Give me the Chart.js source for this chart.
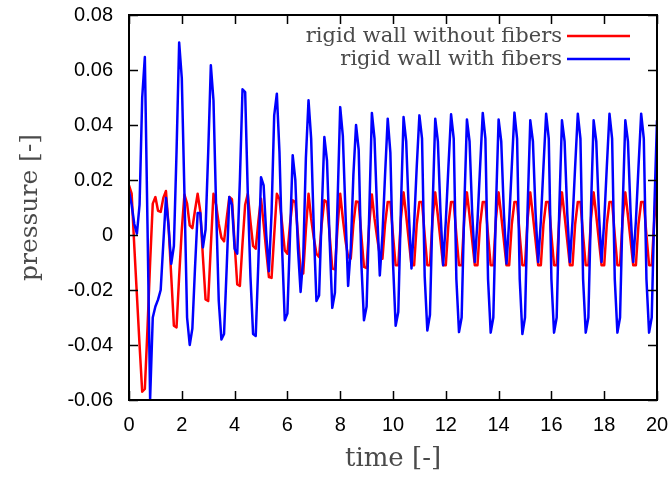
<!DOCTYPE html>
<html>
<head>
<meta charset="utf-8">
<script src="https://cdn.jsdelivr.net/npm/chart.js@4/dist/chart.umd.min.js"></script>
<style>
  html, body { margin: 0; padding: 0; background: #fff; }
  #wrap { width: 672px; height: 477px; }
</style>
</head>
<body>
<div id="wrap"><canvas id="chart" width="672" height="477"></canvas></div>
<script>
// pressure signals sampled every 0.1 time units, t = 0 .. 20
const timeStep = 0.1;
const seriesNames = ['rigid wall without fibers', 'rigid wall with fibers'];
const seriesColors = ['#ff0000', '#0000ff'];
const xTicks = [0, 2, 4, 6, 8, 10, 12, 14, 16, 18, 20];
const yTicks = [-0.06, -0.04, -0.02, 0, 0.02, 0.04, 0.06, 0.08];

const withoutFibers = [
  0.018, 0.015, -0.004, -0.022, -0.040, -0.057, -0.056, -0.034, -0.010, 0.0114,
  0.0138, 0.0088, 0.0084, 0.0135, 0.016, 0.003, -0.015, -0.033, -0.0336, -0.015,
  0.002, 0.0147, 0.0114, 0.0035, 0.0025, 0.009, 0.015, 0.0086, -0.008, -0.0234,
  -0.024, -0.004, 0.015, 0.011, 0.004, -0.001, -0.0023, 0.006, 0.0138, 0.013,
  -0.003, -0.018, -0.0185, -0.003, 0.011, 0.015, 0.005, -0.004, -0.005, 0.005,
  0.0132, 0.004, -0.006, -0.0153, -0.0156, 0.000, 0.015, 0.013, 0.004, -0.0056,
  -0.0068, 0.004, 0.0126, 0.012, 0.000, -0.0135, -0.014, 0.002, 0.015, 0.006,
  -0.001, -0.0068, -0.008, 0.004, 0.0126, 0.012, 0.000, -0.0122, -0.0125, 0.003,
  0.015, 0.006, -0.002, -0.008, -0.0086, 0.004, 0.0122, 0.012, 0.000, -0.0116,
  -0.012, 0.004, 0.0147, 0.006, -0.001, -0.0074, -0.0086, 0.004, 0.012, 0.012,
  0.000, -0.011, -0.011, 0.006, 0.0155, 0.007, -0.002, -0.011, -0.011, 0.004,
  0.012, 0.012, 0.000, -0.011, -0.011, 0.006, 0.0155, 0.007, -0.002, -0.011,
  -0.011, 0.004, 0.012, 0.012, 0.000, -0.011, -0.011, 0.006, 0.0155, 0.007,
  -0.002, -0.011, -0.011, 0.004, 0.012, 0.012, 0.000, -0.011, -0.011, 0.006,
  0.0155, 0.007, -0.002, -0.011, -0.011, 0.004, 0.012, 0.012, 0.000, -0.011,
  -0.011, 0.006, 0.0155, 0.007, -0.002, -0.011, -0.011, 0.004, 0.012, 0.012,
  0.000, -0.011, -0.011, 0.006, 0.0155, 0.007, -0.002, -0.011, -0.011, 0.004,
  0.012, 0.012, 0.000, -0.011, -0.011, 0.006, 0.0155, 0.007, -0.002, -0.011,
  -0.011, 0.004, 0.012, 0.012, 0.000, -0.011, -0.011, 0.006, 0.0155, 0.007,
  -0.002, -0.011, -0.011, 0.004, 0.012, 0.012, 0.000, -0.011, -0.011, 0.006,
  0.0155
];

const withFibers = [
  0.016, 0.011, 0.004, 0.0005, 0.011, 0.050, 0.0647, 0.004, -0.0595, -0.030,
  -0.026, -0.0235, -0.020, -0.003, 0.0135, 0.003, -0.0105, -0.004, 0.030, 0.070,
  0.057, 0.015, -0.030, -0.040, -0.034, -0.012, 0.008, 0.008, -0.0045, 0.002,
  0.030, 0.0617, 0.049, 0.010, -0.024, -0.038, -0.036, -0.012, 0.0138, 0.011,
  -0.005, -0.0068, 0.020, 0.053, 0.052, 0.015, -0.015, -0.036, -0.0367, -0.010,
  0.021, 0.018, 0.000, -0.0132, 0.008, 0.0435, 0.0514, 0.030, -0.005, -0.031,
  -0.0286, 0.000, 0.029, 0.020, -0.005, -0.0207, -0.008, 0.028, 0.049, 0.035,
  0.002, -0.024, -0.022, 0.008, 0.0356, 0.027, -0.002, -0.0265, -0.021, 0.012,
  0.0465, 0.036, 0.008, -0.0185, -0.005, 0.022, 0.040, 0.031, -0.010, -0.031,
  -0.026, 0.008, 0.0444, 0.035, 0.008, -0.0147, 0.000, 0.022, 0.0423, 0.030,
  -0.010, -0.033, -0.028, 0.010, 0.0429, 0.034, 0.008, -0.0122, 0.004, 0.025,
  0.0435, 0.035, -0.015, -0.0347, -0.029, 0.010, 0.0423, 0.034, 0.008, -0.011,
  0.005, 0.025, 0.0439, 0.035, -0.016, -0.0353, -0.030, 0.010, 0.042, 0.034,
  0.008, -0.0098, 0.005, 0.025, 0.0444, 0.035, -0.016, -0.0355, -0.030, 0.010,
  0.042, 0.034, 0.008, -0.0104, 0.005, 0.025, 0.0445, 0.035, -0.016, -0.036,
  -0.030, 0.010, 0.0417, 0.034, 0.008, -0.0098, 0.005, 0.025, 0.0441, 0.035,
  -0.016, -0.0355, -0.030, 0.010, 0.0417, 0.034, 0.008, -0.0098, 0.005, 0.025,
  0.0441, 0.035, -0.016, -0.0355, -0.030, 0.010, 0.0417, 0.034, 0.008, -0.0098,
  0.005, 0.025, 0.0441, 0.035, -0.016, -0.0355, -0.030, 0.010, 0.0417, 0.034,
  0.008, -0.0098, 0.005, 0.025, 0.0441, 0.035, -0.016, -0.0355, -0.030, 0.010,
  0.0417
];

const toPoints = arr => arr.map((v, i) => ({ x: Math.round(i * timeStep * 10) / 10, y: v }));

const serif = '"DejaVu Serif", serif';
const sans = '"Liberation Sans", Arial, sans-serif';

// gnuplot-like frame: box all round, ticks pointing inwards, legend with line sample after text
const gnuplotFrame = {
  id: 'gnuplotFrame',
  afterDatasetsDraw(chart) {
    const { ctx, chartArea: a, scales: { x, y } } = chart;
    ctx.save();
    ctx.strokeStyle = '#000';
    ctx.lineWidth = 1.5;
    const len = 9;
    ctx.beginPath();
    xTicks.forEach(v => {
      const px = Math.round(x.getPixelForValue(v)) + 0.5;
      ctx.moveTo(px, a.bottom); ctx.lineTo(px, a.bottom - len);
      ctx.moveTo(px, a.top); ctx.lineTo(px, a.top + len);
    });
    yTicks.forEach(v => {
      const py = Math.round(y.getPixelForValue(v)) + 0.5;
      ctx.moveTo(a.left, py); ctx.lineTo(a.left + len, py);
      ctx.moveTo(a.right, py); ctx.lineTo(a.right - len, py);
    });
    ctx.stroke();
    ctx.lineWidth = 2;
    ctx.strokeRect(a.left, a.top, a.right - a.left, a.bottom - a.top);

    // legend
    ctx.font = '21px ' + serif;
    ctx.fillStyle = '#4a4a4a';
    ctx.textAlign = 'right';
    ctx.textBaseline = 'middle';
    const textRight = a.right - 95;
    seriesNames.forEach((name, i) => {
      const ly = a.top + 21 + i * 23;
      ctx.fillText(name, textRight, ly + 1);
      ctx.strokeStyle = seriesColors[i];
      ctx.lineWidth = 2.5;
      ctx.beginPath();
      ctx.moveTo(textRight + 5, ly);
      ctx.lineTo(textRight + 68, ly);
      ctx.stroke();
    });
    ctx.restore();
  }
};

new Chart(document.getElementById('chart'), {
  type: 'line',
  data: {
    datasets: [
      {
        label: seriesNames[0],
        data: toPoints(withoutFibers),
        borderColor: seriesColors[0],
        borderWidth: 2.5,
        pointRadius: 0,
        tension: 0,
        borderJoinStyle: 'round',
        order: 1
      },
      {
        label: seriesNames[1],
        data: toPoints(withFibers),
        borderColor: seriesColors[1],
        borderWidth: 2.5,
        pointRadius: 0,
        tension: 0,
        borderJoinStyle: 'round',
        order: 0
      }
    ]
  },
  options: {
    responsive: false,
    animation: false,
    layout: { padding: { top: 15, right: 15, left: 0, bottom: 0 } },
    plugins: { legend: { display: false }, tooltip: { enabled: false } },
    scales: {
      x: {
        type: 'linear',
        min: 0,
        max: 20,
        afterFit: s => { s.height = 77; s.paddingLeft = 0; s.paddingRight = 0; },
        afterBuildTicks: s => { s.ticks = xTicks.map(v => ({ value: v })); },
        grid: { display: false, drawTicks: false },
        border: { display: false },
        ticks: {
          color: '#000',
          font: { family: sans, size: 20 },
          padding: 13,
          maxRotation: 0
        },
        title: {
          display: true,
          text: 'time [-]',
          color: '#4a4a4a',
          font: { family: serif, size: 26 },
          padding: { top: 0, bottom: 2 }
        }
      },
      y: {
        type: 'linear',
        min: -0.06,
        max: 0.08,
        afterFit: s => { s.width = 129; s.paddingTop = 0; s.paddingBottom = 0; },
        afterBuildTicks: s => { s.ticks = yTicks.map(v => ({ value: v })); },
        grid: { display: false, drawTicks: false },
        border: { display: false },
        ticks: {
          color: '#000',
          font: { family: sans, size: 20 },
          padding: 16,
          callback: v => (Math.abs(v) < 1e-9 ? '0' : v.toFixed(2))
        },
        title: {
          display: true,
          text: 'pressure [-]',
          color: '#4a4a4a',
          font: { family: serif, size: 25 },
          padding: { top: 15, bottom: 0 }
        }
      }
    }
  },
  plugins: [gnuplotFrame]
});
</script>
</body>
</html>
